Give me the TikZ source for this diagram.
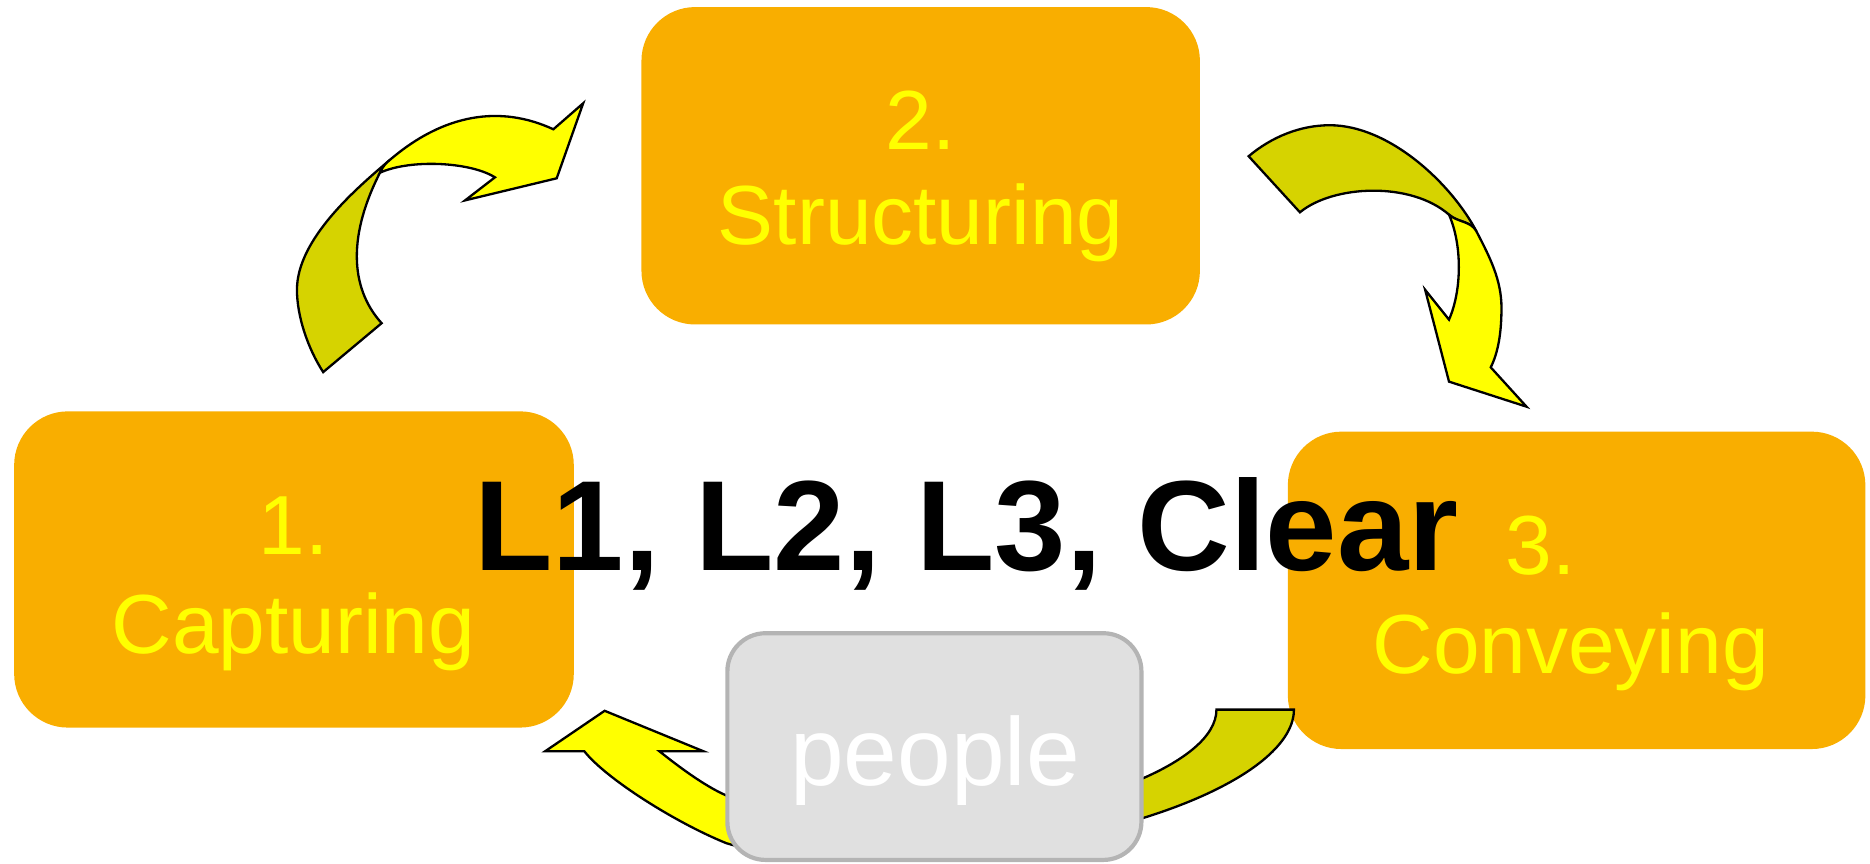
\documentclass[tikz,border=0pt]{standalone}
\usepackage{fontspec}
\setmainfont{Liberation Sans}
\definecolor{boxfill}{HTML}{F9AE00}
\definecolor{labelfill}{HTML}{FFFF00}
\definecolor{frontfill}{HTML}{FFFF00}
\definecolor{backfill}{HTML}{D6D300}
\definecolor{peoplefill}{HTML}{E0E0E0}
\definecolor{peopleline}{HTML}{B4B4B4}
\begin{document}
\begin{tikzpicture}[x=0.01cm,y=-0.01cm,
  stagebox/.style={fill=boxfill, rounded corners=0.45cm, inner sep=0pt, draw=none},
  stagelbl/.style={text=labelfill, font=\fontsize{20}{24}\selectfont, inner sep=0pt, anchor=base},
  backband/.style={fill=backfill, draw=black, line width=0.55pt, line join=miter},
  frontband/.style={fill=frontfill, draw=black, line width=0.55pt, line join=miter},
  peoplebox/.style={fill=peoplefill, draw=peopleline, line width=1pt, rounded corners=0.32cm, inner sep=0pt},
  bigtext/.style={font=\fontsize{30.6}{36}\selectfont\bfseries, inner sep=0pt, anchor=base west}
]
\useasboundingbox (0,0) rectangle (1568,724);

% stage boxes
\node[stagebox, minimum width=4.69cm, minimum height=2.65cm] (cap) at (246.5,477.5) {};
\node[stagebox, minimum width=4.68cm, minimum height=2.66cm] (str) at (772,139) {};
\node[stagebox, minimum width=4.84cm, minimum height=2.66cm] (con) at (1322,495) {};

\node[stagelbl] (capn) at (246,465) {1.};
\node[stagelbl] (capt) at (246,548) {Capturing};
\node[stagelbl] (strn) at (772,125) {2.};
\node[stagelbl] (strt) at (772,205) {Structuring};
\node[stagelbl] (conn) at (1292,482) {3.};
\node[stagelbl] (cont) at (1317,565) {Conveying};

% ---------- left curved arrow (Capturing -> Structuring)
\coordinate (lA) at (271,312);    % tail, outer
\coordinate (lB) at (320,271);    % tail, inner
\coordinate (lL) at (249,243);    % leftmost of outer edge
\coordinate (lM) at (327,134);    % back meets front on outer edge
\coordinate (lQ) at (318.6,144.8);% front inner edge starts
\coordinate (lE) at (464,108.4);  % head base, outer
\coordinate (lN) at (415,148.7);  % head notch
\path[backband] (lA) .. controls (258,292) and (249,265) .. (lL)
  .. controls (249,200) and (300,157) .. (lM)
  .. controls (323.2,137.2) and (321,139.5) .. (lQ)
  .. controls (293,195) and (292,240) .. (lB) -- cycle;
\path[frontband] (lQ) .. controls (321,139.5) and (323.2,137.2) .. (lM)
  .. controls (372.6,95) and (420,88) .. (lE)
  -- (489,86.6) -- (466.8,149.5) -- (390,168) -- (lN)
  .. controls (395,136) and (345,133) .. (lQ) -- cycle;

% ---------- right curved arrow (Structuring -> Conveying)
\coordinate (rA) at (1047,131);
\coordinate (rB) at (1090,178);
\coordinate (rT) at (1115,105);
\coordinate (rM) at (1238,194);
\coordinate (rQ) at (1215,180);
\coordinate (rR) at (1259,258);
\coordinate (rE) at (1250,308);
\coordinate (rN) at (1215,268);
\path[backband] (rA) .. controls (1066,115) and (1090,105) .. (rT)
  .. controls (1165,105) and (1217,154) .. (rM)
  .. controls (1233.4,185.2) and (1222.5,186.6) .. (rQ)
  .. controls (1183,152) and (1118,155) .. (rB) -- cycle;
\path[frontband] (rQ) .. controls (1222.5,186.6) and (1233.4,185.2) .. (rM)
  .. controls (1249.5,216) and (1259,235) .. (rR)
  .. controls (1259,280) and (1256,296) .. (rE)
  -- (1280,341) -- (1215,320) -- (1195,243) -- (rN)
  .. controls (1226,243) and (1226,205) .. (rQ) -- cycle;

% ---------- bottom curved arrow (Conveying -> Capturing)
\coordinate (bA) at (1085,595);
\coordinate (bB) at (1020,595);
\coordinate (bE) at (490,630);
\coordinate (bN) at (553,630);
\coordinate (bP) at (609,707);
\coordinate (bS) at (609,667);
\path[backband] (bB) -- (bA) .. controls (1085,645) and (970,700) .. (800,716)
  -- (800,690) .. controls (910,680) and (1020,640) .. (bB) -- cycle;
\path[frontband] (760,690) .. controls (720,690) and (646,683) .. (bS)
  .. controls (590.6,659) and (568.6,642.4) .. (bN)
  -- (590,630) -- (507,596) -- (457,630) -- (bE)
  .. controls (508.6,653.4) and (567,690) .. (bP)
  .. controls (651,720) and (720,720) .. (760,720) -- cycle;

% people box
\node[peoplebox, minimum width=3.47cm, minimum height=1.90cm] (ppl) at (783.5,626) {};
\node[text=white, font=\fontsize{23}{28}\selectfont, inner sep=0pt, anchor=base] (pplt) at (784,659) {people};

% big overlay text
\node[bigtext] (lvl) at (397,478) {L1, L2, L3, Clear};
\end{tikzpicture}
\end{document}
